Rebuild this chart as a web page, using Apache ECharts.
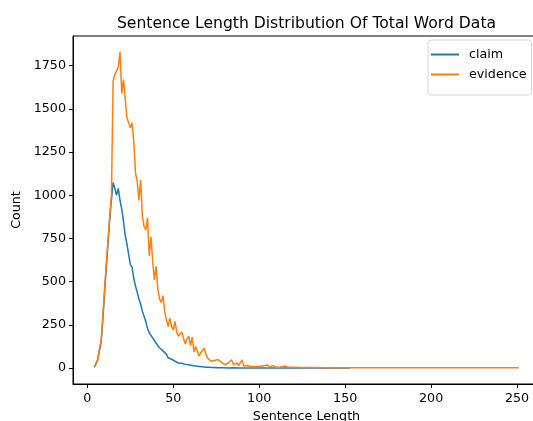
<!DOCTYPE html>
<html>
<head>
<meta charset="utf-8">
<script src="https://cdn.jsdelivr.net/npm/echarts@6/dist/echarts.min.js"></script>
<style>
  html, body { margin: 0; padding: 0; background: #fff; overflow: hidden; }
  /* the plot frame runs a few pixels past the right edge of the window */
  #chart { width: 541px; height: 421px; }
</style>
</head>
<body>
<div id="chart"></div>
<script>
// sentence length -> count
const claimLength = [
  4, 5, 6, 7, 8, 9, 10, 11, 12, 13, 14, 15, 16, 17, 18, 19, 20, 21, 22, 23,
  24, 25, 26, 27, 28, 29, 30, 31, 32, 33, 34, 35, 36, 37, 38, 39, 40, 41, 42, 43,
  44, 45, 46, 47, 48, 49, 50, 51, 52, 53, 54, 55, 56, 57, 58, 59, 60, 61, 62, 63,
  64, 65, 66, 67, 68, 69, 70, 71, 72, 73, 74, 75, 76, 77, 78, 79, 80,
  82, 85, 88, 90, 95, 100, 105, 110, 120, 130, 140, 153
];
const claimCount = [
  5, 15, 45, 100, 150, 280, 430, 580, 720, 860, 975, 1075, 1040, 1000, 1040, 970, 920, 850, 770, 720,
  660, 600, 585, 520, 475, 440, 400, 370, 330, 300, 270, 230, 205, 195, 175, 160, 150, 130, 118, 108,
  100, 95, 80, 60, 55, 52, 50, 40, 42, 30, 32, 28, 26, 22, 24, 20, 18, 16, 14, 12,
  11, 10, 9, 8, 7, 6, 5, 5, 4, 4, 3, 3, 3, 2, 2, 2, 2,
  1, 2, 1, 1, 1, 1, 1, 1, 1, 1, 1, 1
];
const evidenceLength = [
  4, 5, 6, 7, 8, 9, 10, 11, 12, 13, 14, 15, 16, 17, 18, 19, 20, 21, 22, 23,
  24, 25, 26, 27, 28, 29, 30, 31, 32, 33, 34, 35, 36, 37, 38, 39, 40, 41, 42, 43,
  44, 45, 46, 47, 48, 49, 50, 51, 52, 53, 54, 55, 56, 57, 58, 59, 60, 61, 62, 63,
  64, 65, 66, 67, 68, 69, 70, 71, 72, 73, 74, 75, 76, 77, 78, 79, 80, 81, 82, 83,
  84, 85, 86, 87, 88, 89, 90, 91, 92, 93, 94, 95, 96, 97, 98, 99, 100,
  102, 103, 105, 106, 108, 110, 112, 115, 117, 120, 125, 130, 140, 150, 160, 170,
  180, 190, 200, 210, 220, 230, 240, 251
];
const evidenceCount = [
  5, 15, 50, 110, 160, 300, 460, 600, 740, 880, 1000, 1660, 1700, 1720, 1740, 1830, 1590, 1670, 1560, 1450,
  1440, 1390, 1420, 1310, 1130, 1080, 970, 1090, 880, 820, 800, 870, 650, 760, 620, 510, 590, 460, 400, 380,
  420, 330, 280, 240, 290, 240, 220, 270, 210, 185, 180, 210, 170, 140, 170, 185, 130, 180, 95, 125,
  100, 70, 90, 100, 115, 80, 58, 50, 40, 30, 45, 40, 50, 58, 35, 30, 20, 25, 30, 25,
  48, 20, 25, 30, 15, 20, 48, 12, 20, 15, 12, 10, 12, 10, 20, 8, 10,
  13, 6, 18, 6, 15, 5, 6, 12, 5, 6, 4, 4, 3, 3, 3, 3,
  3, 3, 3, 3, 3, 3, 3, 3
];
const xTicks = [0, 50, 100, 150, 200, 250];
const yTicks = [0, 250, 500, 750, 1000, 1250, 1500, 1750];

const font = "DejaVu Sans";
const tickSize = 12.7;
const chart = echarts.init(document.getElementById("chart"));

function pairs(xs, ys) {
  return xs.map((x, i) => [x, ys[i]]);
}

chart.setOption({
  animation: false,
  textStyle: { fontFamily: font },
  title: {
    text: "Sentence Length Distribution Of Total Word Data",
    left: 301.5,
    top: 11,
    textAlign: "center",
    textStyle: { fontFamily: font, fontSize: 15.6, fontWeight: "normal", color: "#000" },
  },
  legend: {
    orient: "vertical",
    left: 428,
    top: 40,
    padding: [7, 5, 13, 3],
    itemGap: 5,
    itemWidth: 28,
    itemHeight: 2,
    icon: "rect",
    backgroundColor: "#fff",
    borderColor: "#d6d6d6",
    borderWidth: 1,
    borderRadius: 3,
    textStyle: { fontFamily: font, fontSize: tickSize, lineHeight: 15, color: "#000", padding: [0, 0, 0, 5] },
    data: ["claim", "evidence"],
  },
  grid: {
    left: 73,
    right: 1,
    top: 36,
    bottom: 37,
    outerBoundsMode: "none",
    show: true,
    borderColor: "#000",
    borderWidth: 1,
    backgroundColor: "transparent",
  },
  xAxis: {
    type: "value",
    min: -8.35,
    max: 263.35,
    name: "Sentence Length",
    nameLocation: "middle",
    nameGap: 26,
    nameTextStyle: { fontFamily: font, fontSize: tickSize, color: "#000" },
    axisLine: { show: true, onZero: false, lineStyle: { color: "#000", width: 1 } },
    axisTick: { show: true, length: 4, customValues: xTicks, lineStyle: { color: "#000" } },
    axisLabel: { customValues: xTicks, margin: 8, fontFamily: font, fontSize: tickSize, color: "#000" },
    splitLine: { show: false },
  },
  yAxis: {
    type: "value",
    min: -91.5,
    max: 1921.5,
    name: "Count",
    nameLocation: "middle",
    nameGap: 42,
    nameTextStyle: { fontFamily: font, fontSize: tickSize, color: "#000" },
    axisLine: { show: true, onZero: false, lineStyle: { color: "#000", width: 1 } },
    axisTick: { show: true, length: 4, customValues: yTicks, lineStyle: { color: "#000" } },
    axisLabel: {
      customValues: yTicks,
      margin: 7,
      fontFamily: font,
      fontSize: tickSize,
      color: "#000",
      formatter: (v) => String(v),
    },
    splitLine: { show: false },
  },
  series: [
    {
      name: "claim",
      type: "line",
      symbol: "none",
      data: pairs(claimLength, claimCount),
      lineStyle: { width: 1.5, color: "#1f77b4" },
      itemStyle: { color: "#1f77b4" },
    },
    {
      name: "evidence",
      type: "line",
      symbol: "none",
      data: pairs(evidenceLength, evidenceCount),
      lineStyle: { width: 1.5, color: "#ff7f0e" },
      itemStyle: { color: "#ff7f0e" },
    },
  ],
});
</script>
</body>
</html>
